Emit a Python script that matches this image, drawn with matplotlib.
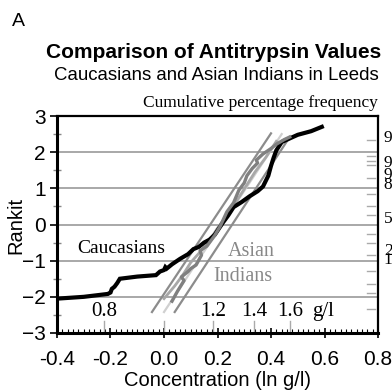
import numpy as np
import matplotlib.pyplot as plt
from matplotlib.ticker import MultipleLocator
from statistics import NormalDist

SANS = 'Liberation Sans'
SERIF = 'Liberation Serif'

# Caucasians (black step-like curve), ln g/l vs rankit
cauc_x = [-0.40, -0.30, -0.21, -0.20, -0.195, -0.185, -0.175, -0.165, -0.10, -0.03,
          -0.015, 0.0, 0.005, 0.01, 0.03, 0.06, 0.09, 0.11, 0.13, 0.15, 0.17, 0.19,
          0.22, 0.24, 0.26, 0.29, 0.32, 0.35, 0.37, 0.38, 0.39, 0.40, 0.41, 0.42,
          0.44, 0.47, 0.50, 0.55, 0.59]
cauc_r = [-2.05, -2.00, -1.92, -1.88, -1.78, -1.72, -1.62, -1.50, -1.44, -1.40,
          -1.30, -1.26, -1.18, -1.22, -1.10, -0.95, -0.82, -0.68, -0.62, -0.50, -0.42, -0.28,
          0.05, 0.25, 0.48, 0.62, 0.78, 0.92, 1.05, 1.20, 1.35, 1.62, 1.85, 2.05,
          2.28, 2.38, 2.48, 2.58, 2.70]

# Asian Indians (grey jagged curves)
asian_x = [0.03, 0.05, 0.075, 0.065, 0.09, 0.10, 0.12, 0.14, 0.135, 0.16, 0.19, 0.21,
           0.235, 0.26, 0.28, 0.30, 0.31, 0.33, 0.35, 0.345, 0.37, 0.40, 0.42, 0.45, 0.47]
asian_r = [-2.12, -1.85, -1.55, -1.45, -1.30, -1.22, -1.12, -0.85, -0.72, -0.60, -0.30, -0.05,
           0.35, 0.60, 0.95, 1.15, 1.35, 1.55, 1.70, 1.78, 1.95, 2.10, 2.22, 2.35, 2.42]
asian2_x = [0.0, 0.04, 0.07, 0.10, 0.13, 0.17, 0.20, 0.24, 0.28, 0.31, 0.34, 0.38, 0.42]
asian2_r = [-2.05, -1.70, -1.40, -1.05, -0.80, -0.45, -0.10, 0.30, 0.75, 1.10, 1.45, 1.85, 2.30]

# straight reference lines (start / end points)
fit_x0 = [-0.045, 0.0, 0.04]
fit_r0 = [-2.42, -2.42, -2.42]
fit_x1 = [0.40, 0.44, 0.47]
fit_r1 = [2.52, 2.50, 2.42]
fit_colors = ['#8c8c8c', '#d0d0d0', '#8c8c8c']

# g/l scale along the bottom
gl_values = [0.8, 1.0, 1.2, 1.4, 1.6]
gl_labels = ['0.8', '', '1.2', '1.4', '1.6']

# cumulative percentage ticks on the right
pct_ticks = [1, 3, 5, 10, 20, 30, 40, 60, 70, 80, 90, 95, 96, 97, 99]
pct_labels = ['99', '95', '90', '80', '50', '20', '10']
pct_label_r = [2.40, 1.69, 1.38, 1.10, 0.14, -0.72, -0.97]

fig = plt.figure(figsize=(3.92, 3.91), dpi=100)
ax = fig.add_axes([57 / 392, 1 - 333 / 391, 321 / 392, 217 / 391])

for r in [-2, -1, 0, 1, 2]:
    ax.axhline(r, color='#9a9a9a', lw=1.2, zorder=1)

for x0, r0, x1, r1, c in zip(fit_x0, fit_r0, fit_x1, fit_r1, fit_colors):
    ax.plot([x0, x1], [r0, r1], color=c, lw=1.6, zorder=2)

ax.plot(asian2_x, asian2_r, color='#a8a8a8', lw=2.0, zorder=3)
ax.plot(cauc_x, cauc_r, color='black', lw=3.0, zorder=4, solid_joinstyle='miter')
ax.plot(asian_x, asian_r, color='#808080', lw=2.4, zorder=5)

# g/l ticks and labels
for v, lab in zip(gl_values, gl_labels):
    lx = np.log(v)
    ax.plot([lx, lx], [-3, -2.68], color='#aaaaaa', lw=1.0, zorder=2)
    if lab:
        ax.text(lx, -2.4, lab, family=SERIF, fontsize=15, ha='center', va='center')
ax.text(0.595, -2.4, 'g/l', family=SERIF, fontsize=15, ha='center', va='center')

# cumulative percentage ticks
trans = ax.get_yaxis_transform()
for p in pct_ticks:
    r = NormalDist().inv_cdf(p / 100)
    ax.plot([0.965, 0.99], [r, r], color='#aaaaaa', lw=1.0, transform=trans, zorder=2)
for lab, r in zip(pct_labels, pct_label_r):
    ax.text(1.018, r, lab, family=SERIF, fontsize=12.5, ha='left', va='center',
            transform=trans, clip_on=False)

ax.text(-0.16, -0.66, 'Caucasians', family=SERIF, fontsize=14, ha='center', va='center')
ax.text(0.326, -0.75, 'Asian', family=SERIF, fontsize=14.5, color='#888888', ha='center', va='center')
ax.text(0.296, -1.44, 'Indians', family=SERIF, fontsize=14.5, color='#888888', ha='center', va='center')

ax.set_xlim(-0.4, 0.8)
ax.set_ylim(-3, 3)
ax.xaxis.set_major_locator(MultipleLocator(0.2))
ax.xaxis.set_minor_locator(MultipleLocator(0.02))
ax.yaxis.set_major_locator(MultipleLocator(1))
ax.yaxis.set_minor_locator(MultipleLocator(0.5))
ax.set_xticklabels([f'{v:.1f}' for v in ax.get_xticks()])
ax.tick_params(axis='x', which='major', direction='inout', length=7, width=1.2, pad=9, labelsize=15)
ax.tick_params(axis='x', which='minor', direction='in', length=3, width=0.8)
ax.tick_params(axis='y', which='major', direction='out', length=5, width=1.2, pad=3, labelsize=15)
ax.tick_params(axis='y', which='minor', direction='inout', length=6, width=1.0, color='#888888')
for lab in ax.get_xticklabels() + ax.get_yticklabels():
    lab.set_family(SANS)

for side, w in [('left', 2.2), ('bottom', 2.2), ('top', 1.6), ('right', 1.6)]:
    ax.spines[side].set_linewidth(w)
    ax.spines[side].set_color('black')

fig.text(16 / 392, 1 - 225 / 391, 'Rankit', family=SANS, fontsize=14.5, rotation=90,
         ha='center', va='center')
fig.text(218 / 392, 1 - 380 / 391, 'Concentration (ln g/l)', family=SANS, fontsize=14.5,
         ha='center', va='center')
fig.text(12 / 392, 1 - 22 / 391, 'A', family=SANS, fontsize=14, ha='left', va='center')
fig.text(214 / 392, 1 - 53 / 391, 'Comparison of Antitrypsin Values', family=SANS,
         fontsize=15, weight='bold', ha='center', va='center')
fig.text(216 / 392, 1 - 75 / 391, 'Caucasians and Asian Indians in Leeds', family=SANS,
         fontsize=13.4, ha='center', va='center')
fig.text(378 / 392, 1 - 103 / 391, 'Cumulative percentage frequency', family=SERIF,
         fontsize=12.5, ha='right', va='center')

fig.savefig('out.png', dpi=100)
